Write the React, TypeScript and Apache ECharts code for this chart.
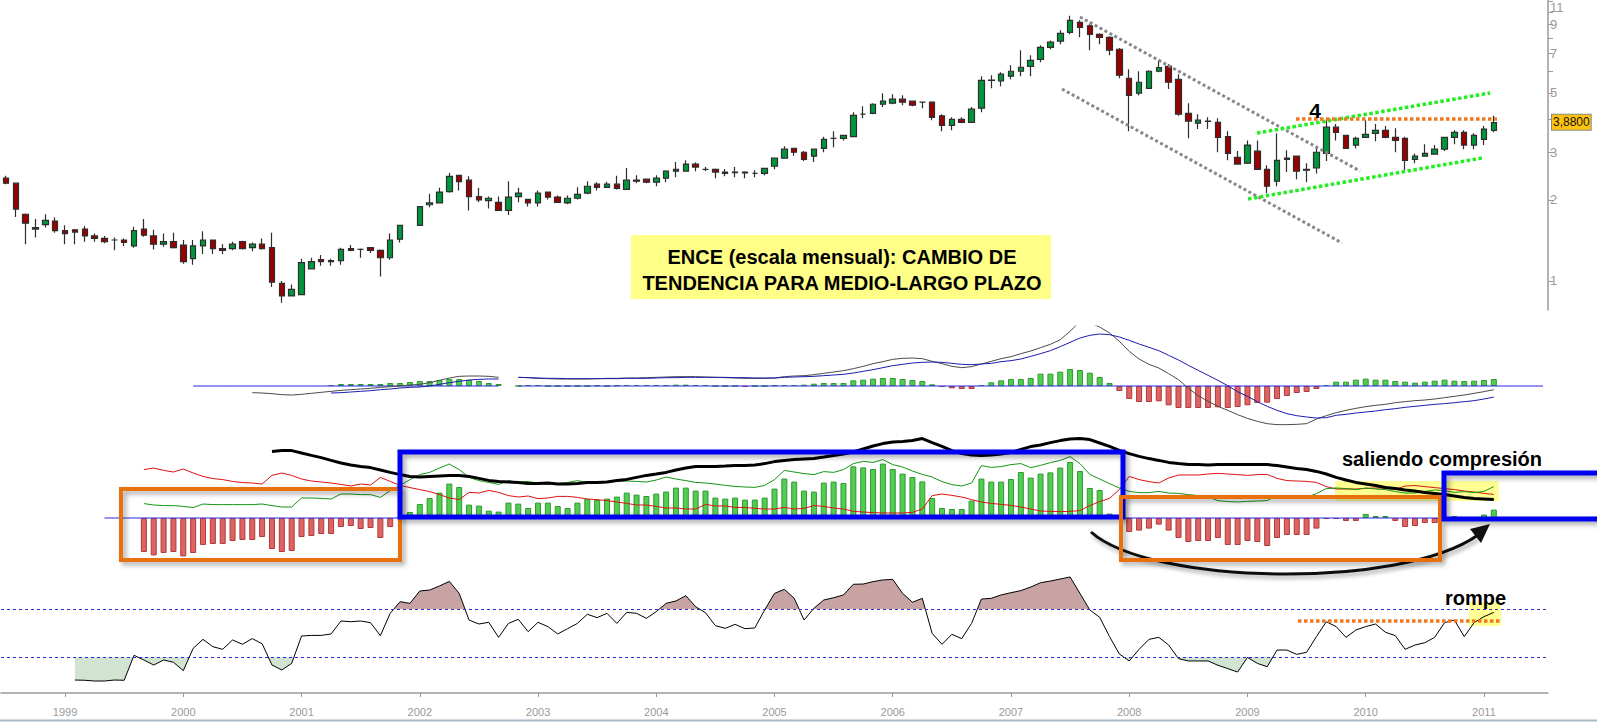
import { useEffect, useRef } from 'react';
import * as echarts from 'echarts';

// ENCE monthly bars, July 1998 .. February 2011 (index 0 = 1998-07).
// Axis slots continue to July 2011 so the price scale sits to the right of the last bar.
const SLOTS = 157;
const months: string[] = [];
for (let i = 0; i < SLOTS; i++) {
  const y = 1998 + Math.floor((6 + i) / 12);
  const m = ((6 + i) % 12) + 1;
  months.push(`${y}-${String(m).padStart(2, '0')}`);
}

const open = [
  2.41, 2.31, 1.77, 1.56, 1.62, 1.67, 1.54, 1.55, 1.56, 1.47,
  1.44, 1.42, 1.42, 1.35, 1.56, 1.47, 1.37, 1.40, 1.36, 1.21,
  1.35, 1.42, 1.32, 1.32, 1.40, 1.33, 1.37, 1.33, 0.98, 0.88,
  0.89, 1.11, 1.20, 1.19, 1.19, 1.32, 1.31, 1.33, 1.30, 1.22,
  1.43, null, 1.61, 1.92, 1.95, 2.15, 2.47, 2.37, 2.06, 1.99,
  1.96, 1.83, 2.06, 2.01, 1.95, 2.14, 2.05, 1.95, 2.03, 2.12,
  2.29, 2.23, 2.29, 2.19, 2.35, 2.39, 2.33, 2.41, 2.56, 2.56,
  2.72, 2.60, 2.60, 2.54, 2.54, 2.54, 2.51, 2.51, 2.67, 2.86,
  3.11, 3.01, 2.91, 3.11, 3.39, 3.39, 3.44, 4.17, 4.20, 4.54,
  4.58, 4.74, 4.66, 4.62, 4.62, 4.11, 3.79, 3.99, 3.89, 4.39,
  5.57, 5.54, 5.77, 6.02, 6.28, 6.67, 7.39, 7.79, 8.40, 9.15,
  8.89, 8.26, 8.05, 7.27, 5.67, 4.99, 5.20, 6.02, 6.28, 5.62,
  4.20, 3.86, 3.93, 3.89, 3.44, 2.88, 2.74, 3.04, 2.60, 2.35,
  2.83, 2.91, 2.60, 2.63, 2.98, 3.73, 3.48, 3.20, 3.42, 3.54,
  3.63, 3.42, 3.39, 2.83, 2.91, 2.96, 3.09, 3.42, 3.57, 3.20,
  3.36, 3.63,
];
const close = [
  2.31, 1.85, 1.64, 1.58, 1.68, 1.54, 1.50, 1.52, 1.47, 1.44,
  1.40, 1.42, 1.39, 1.54, 1.48, 1.37, 1.40, 1.33, 1.18, 1.35,
  1.42, 1.32, 1.30, 1.37, 1.32, 1.37, 1.32, 0.99, 0.88, 0.93,
  1.17, 1.18, 1.18, 1.18, 1.31, 1.30, 1.31, 1.30, 1.22, 1.42,
  1.61, null, 1.89, 1.95, 2.14, 2.45, 2.34, 2.06, 2.00, 2.03,
  1.83, 2.05, 2.12, 1.95, 2.12, 2.05, 1.96, 2.03, 2.10, 2.25,
  2.23, 2.29, 2.21, 2.37, 2.37, 2.33, 2.41, 2.56, 2.60, 2.72,
  2.65, 2.60, 2.54, 2.51, 2.53, 2.52, 2.51, 2.62, 2.86, 3.09,
  3.01, 2.83, 3.09, 3.36, 3.39, 3.48, 4.13, 4.17, 4.54, 4.66,
  4.74, 4.62, 4.50, 4.62, 4.06, 3.79, 3.99, 3.89, 4.35, 5.57,
  5.58, 5.87, 6.02, 6.23, 6.61, 7.39, 7.72, 8.33, 9.31, 8.77,
  8.26, 8.05, 7.21, 5.82, 4.90, 5.48, 6.02, 6.21, 5.48, 4.17,
  3.93, 3.96, 3.92, 3.42, 2.98, 2.72, 3.20, 2.60, 2.25, 2.81,
  2.86, 2.56, 2.58, 3.01, 3.73, 3.57, 3.11, 3.39, 3.51, 3.63,
  3.42, 3.33, 2.81, 2.91, 2.98, 3.09, 3.42, 3.57, 3.20, 3.48,
  3.67, 3.88,
];
const low = [
  2.29, 1.73, 1.37, 1.45, 1.58, 1.51, 1.37, 1.37, 1.40, 1.40,
  1.38, 1.30, 1.35, 1.33, 1.46, 1.31, 1.34, 1.32, 1.16, 1.15,
  1.26, 1.26, 1.26, 1.30, 1.31, 1.29, 1.31, 0.95, 0.83, 0.88,
  0.89, 1.11, 1.14, 1.14, 1.15, 1.29, 1.22, 1.27, 1.04, 1.20,
  1.39, null, 1.61, 1.88, 1.95, 2.13, 2.17, 1.83, 1.96, 1.86,
  1.83, 1.76, 1.96, 1.89, 1.89, 2.01, 1.96, 1.93, 2.01, 2.10,
  2.17, 2.23, 2.19, 2.19, 2.31, 2.31, 2.25, 2.33, 2.43, 2.56,
  2.56, 2.56, 2.41, 2.45, 2.43, 2.41, 2.43, 2.47, 2.60, 2.86,
  2.92, 2.79, 2.77, 3.01, 3.14, 3.33, 3.44, 4.03, 4.17, 4.43,
  4.54, 4.50, 4.46, 4.39, 3.96, 3.60, 3.63, 3.86, 3.89, 4.24,
  5.20, 5.29, 5.62, 5.77, 5.77, 6.50, 7.27, 7.59, 8.26, 8.05,
  7.21, 7.59, 6.90, 5.67, 3.60, 4.90, 5.17, 5.97, 5.17, 4.11,
  3.39, 3.67, 3.67, 3.01, 2.81, 2.72, 2.72, 2.60, 2.12, 2.25,
  2.54, 2.39, 2.33, 2.51, 2.79, 3.33, 3.11, 3.11, 3.42, 3.31,
  3.39, 3.01, 2.58, 2.74, 2.91, 2.96, 3.04, 3.22, 3.09, 3.09,
  3.20, 3.57,
];
const high = [
  2.46, 2.32, 1.78, 1.70, 1.77, 1.72, 1.61, 1.56, 1.60, 1.50,
  1.47, 1.45, 1.44, 1.59, 1.70, 1.55, 1.50, 1.51, 1.42, 1.42,
  1.53, 1.42, 1.37, 1.40, 1.41, 1.39, 1.44, 1.51, 1.00, 0.97,
  1.21, 1.22, 1.25, 1.21, 1.33, 1.36, 1.32, 1.33, 1.31, 1.50,
  1.61, null, 1.90, 2.11, 2.22, 2.52, 2.47, 2.45, 2.22, 2.06,
  2.06, 2.35, 2.22, 2.01, 2.17, 2.14, 2.08, 2.08, 2.23, 2.35,
  2.33, 2.34, 2.46, 2.63, 2.47, 2.39, 2.47, 2.58, 2.77, 2.81,
  2.76, 2.65, 2.62, 2.61, 2.65, 2.56, 2.58, 2.63, 2.87, 3.17,
  3.12, 3.04, 3.11, 3.44, 3.60, 3.48, 4.24, 4.46, 4.58, 4.99,
  4.94, 4.90, 4.66, 4.63, 4.66, 4.17, 4.06, 4.06, 4.43, 5.77,
  5.82, 5.97, 6.34, 7.21, 6.90, 7.52, 7.84, 8.55, 9.69, 9.31,
  9.00, 8.33, 8.12, 7.34, 6.13, 6.02, 6.07, 6.61, 6.39, 5.87,
  4.58, 4.17, 4.06, 4.03, 3.60, 3.04, 3.33, 3.33, 2.69, 3.54,
  3.06, 2.91, 2.74, 3.14, 4.03, 3.83, 3.48, 3.44, 3.96, 3.83,
  3.77, 3.70, 3.44, 2.98, 3.22, 3.20, 3.44, 3.63, 3.63, 3.54,
  3.77, 4.11,
];

// Price scale (logarithmic) ticks
const PRICE_AXIS_MIN = 0.78;
const PRICE_AXIS_MAX = 11.08;
const priceTicks = [1, 2, 3, 4, 5, 6, 7, 8, 9, 10, 11];
const priceLabels = [1, 2, 3, 5, 7, 9, 11];

// MACD panel
const MACD_START = 25;
const macdLine = [
  -0.10, -0.105, -0.115, -0.13, -0.135, -0.125, -0.11, -0.095, -0.08, -0.065,
  -0.055, -0.045, -0.035, -0.02, -0.01, 0, 0.015, 0.025, 0.05, 0.085,
  0.12, 0.145, 0.15, 0.15, 0.145, 0.13, null,
  0.13, 0.125, 0.115, 0.11, 0.105, 0.105, 0.105, 0.105, 0.11, 0.115,
  0.115, 0.12, 0.12, 0.125, 0.13, 0.135, 0.14, 0.14, 0.14, 0.135,
  0.13, 0.125, 0.12, 0.115, 0.115, 0.115, 0.12, 0.14, 0.15, 0.155,
  0.17, 0.19, 0.21, 0.23, 0.26,
  0.295, 0.335, 0.365, 0.40, 0.415, 0.42, 0.41, 0.37, 0.335, 0.295,
  0.275, 0.29, 0.33, 0.37, 0.41, 0.44, 0.485, 0.525, 0.575, 0.625,
  0.695, 0.82, 0.97, 0.95, 0.885, 0.795, 0.67, 0.52, 0.405, 0.325,
  0.27, 0.185, 0.095, -0.035, -0.145, -0.23, -0.305, -0.365, -0.43, -0.485,
  -0.53, -0.565, -0.58, -0.58, -0.575, -0.565, -0.495, -0.445, -0.40, -0.365,
  -0.335, -0.31, -0.29, -0.275, -0.25, -0.235, -0.22, -0.21, -0.195, -0.175,
  -0.155, -0.135, -0.11, -0.085, -0.055,
];
const SIGNAL_START = 33;
const signalLine = [
  -0.105, -0.10, -0.09, -0.08, -0.07, -0.055, -0.045, -0.03, -0.02, -0.015,
  0, 0.025, 0.05, 0.07, 0.09, 0.10, 0.105, 0.105, null,
  0.13, 0.125, 0.12, 0.115, 0.115, 0.11, 0.11, 0.11, 0.11, 0.11,
  0.11, 0.115, 0.115, 0.115, 0.12, 0.125, 0.125, 0.13, 0.13, 0.13,
  0.13, 0.13, 0.125, 0.125, 0.12, 0.12, 0.12, 0.13, 0.135, 0.14,
  0.145, 0.155, 0.165, 0.175, 0.195,
  0.22, 0.245, 0.275, 0.305, 0.325, 0.345, 0.355, 0.36, 0.355, 0.34,
  0.325, 0.32, 0.33, 0.34, 0.365, 0.38, 0.405, 0.445, 0.485, 0.53,
  0.59, 0.655, 0.72, 0.76, 0.78, 0.77, 0.735, 0.685, 0.63, 0.58,
  0.53, 0.46, 0.39, 0.31, 0.235, 0.16, 0.085, 0.005, -0.085, -0.155,
  -0.235, -0.305, -0.365, -0.415, -0.445, -0.465, -0.48, -0.475, -0.44, -0.425,
  -0.405, -0.39, -0.375, -0.355, -0.34, -0.32, -0.305, -0.29, -0.275, -0.265,
  -0.25, -0.235, -0.22, -0.195, -0.165,
];
const macdHist = [
  0.015, 0.03, 0.03, 0.03, 0.03, 0.03, 0.045, 0.045, 0.06, 0.075,
  0.075, 0.09, 0.105, 0.105, 0.09, 0.075, 0.045, 0.03, null,
  0, 0.015, 0.015, 0, 0, 0, 0, 0, 0.01, 0,
  0.01, 0.015, 0.015, 0.015, 0.015, 0.015, 0.02, 0.02, 0.015, 0.015,
  0, 0, 0, -0.01, 0, 0, 0.01, 0.015, 0.015, 0.02,
  0.035, 0.045, 0.045, 0.045, 0.085,
  0.095, 0.11, 0.12, 0.12, 0.105, 0.09, 0.075, 0.025, -0.015, -0.035,
  -0.045, -0.045, 0.015, 0.055, 0.085, 0.105, 0.105, 0.12, 0.185, 0.185,
  0.215, 0.255, 0.24, 0.2, 0.135, 0.045, -0.075, -0.195, -0.24, -0.24,
  -0.23, -0.29, -0.33, -0.33, -0.33, -0.33, -0.32, -0.33, -0.315, -0.29,
  -0.255, -0.25, -0.195, -0.15, -0.105, -0.09, -0.045, 0.015, 0.065, 0.065,
  0.095, 0.11, 0.095, 0.095, 0.075, 0.065, 0.05, 0.065, 0.08, 0.095,
  0.08, 0.075, 0.08, 0.09, 0.105,
];

// Directional movement panel (+DI green, -DI red, ADX black, +DI minus -DI bars)
const DI_START = 14;
const minusDI = [
  24.2, 25, 23.8, 23, 24.5, 22.5,
  20.8, 19.7, 19.2, 18.3, 17.7, 17.5, 17, 21.3, 22.5, 21.3,
  19.5, 18.5, 18, 17.5, 16.8, 16, 17, 16.5, 20.3, 18.3,
  16.3, 15.2, 14.2, 13.2, 11.7, 10, 9.2, 12.8, 12.5, 13.8,
  12.8, 11.2, 10.5, 11, 9.7, 10, 10.8, 10.8, 10.3, 9.5,
  9.2, 8.7, 8, 7.3, 6.5, 6.5, 5.8, 5, 5, 4.5,
  4.5, 6.8, 6, 6, 5.3, 5.3, 4.8, 4.5, 4.5, 5.3,
  4.5, 4.8, 6.2, 5.8, 5, 4.5, 3.3, 3, 2.7, 2.5,
  2.5, 2.5, 2.8, 4.5, 11.2, 12, 11.3, 10.5, 9.2, 8,
  7.3, 6.8, 6.3, 5.5, 4.5, 3.5, 3.3, 3.2, 3.3, 3.7,
  6.2, 8.2, 9.8, 14.2, 20.8, 19.2, 18.2, 17.5, 20, 21.5,
  21.5, 21.5, 22, 22.3, 22, 21.7, 21.3, 21.7, 21.8, 19.8,
  18.7, 18.5, 18.3, 17.8, 15.7, 14.5, 14.5, 14.5, 14.8, 15,
  15, 14.3, 16, 16.2, 15.7, 15.2, 14.7, 14.2, 13.5, 13,
  12.3, 11.8,
];
const plusDI = [
  7.2, 6.5, 6.2, 6.2, 5.8, 5.2,
  7, 6.7, 6.7, 6.7, 6.7, 6.7, 7, 6.2, 5.5, 5.5,
  10, 10, 9.8, 9.5, 12, 12, 11.7, 11.7, 10.3, 13.7,
  16.3, 19.2, 21.7, 22.8, 25, 27, 24.2, 20.3, 18.7, 17.8,
  16.8, 18.7, 17.8, 18.3, 17.3, 16.8, 17.2, 17.8, 18.7, 17.8,
  17.8, 18.3, 18.3, 18.5, 18.3, 18, 19, 20.5, 19.5, 18.7,
  17.8, 17.5, 17, 16.3, 15.8, 15.5, 15.3, 16.3, 19.2, 23.8,
  23, 22.2, 21.7, 23.2, 22.8, 24.2, 27.2, 28.3, 27.8, 29.2,
  26.7, 25.5, 23.5, 21.8, 20.5, 18.2, 16.7, 16, 17.5, 26.2,
  25.3, 25.7, 26.7, 27.2, 25.2, 26.3, 27.7, 28.8, 30.7, 27.2,
  21.8, 19.5, 17.2, 15, 13.3, 12.7, 12.7, 13.3, 12.5, 12.3,
  11.7, 11.2, 10.5, 8.7, 8.2, 8, 8.3, 8.5, 8.7, 11.3,
  10.5, 10.3, 10.3, 12.2, 14.7, 15, 14.7, 14.2, 15, 14.5,
  14.2, 13.2, 12.5, 12.5, 13.3, 14, 13.7, 12.8, 13.2, 12.7,
  13.3, 15.7,
];
const diSpread = [
  -17, -18.7, -17.5, -17, -19.2, -17.5,
  -13.5, -13, -13, -11.5, -11, -11, -9.5, -15.5, -17, -16.5,
  -9.5, -9, -8, -8, -4.5, -4, -5.5, -5, -10, -4.5,
  0.5, 3, 7, 10, 12.7, 17.2, 15.5, 6.7, 6.2, 3.7,
  3.2, 7.7, 7.2, 5, 7.7, 7.7, 6, 5, 7.7, 9.5,
  9, 9.7, 10.7, 12.7, 11.7, 11, 12.2, 13.2, 15.2, 15.2,
  13.7, 13.7, 10.2, 9.7, 10.2, 9.2, 9.2, 10.2, 14.7, 19.7,
  18.2, 13.7, 13.2, 17.7, 18.2, 17.5, 25.8, 25.3, 24.5, 27.2,
  24.5, 22.2, 20.5, 18.3, 10, 5, 4.5, 4.5, 8.7, 19.7,
  18.2, 18.2, 19.5, 23, 20.2, 22.2, 22.8, 25.2, 28, 23.5,
  15, 14, 2.2, 0.8, -7, -6.3, -5.3, -3.3, -6.3, -10,
  -12, -11.5, -11.5, -10, -13.5, -13.5, -11.5, -12, -14, -10,
  -8.5, -8.5, -8.5, -5.3, -0.5, -0.5, -1.5, -1.5, 2, 1,
  1, -1.5, -4.5, -4, -2.5, -2.5, -1, 1, 0.3, 0.5,
  1.7, 4.2,
];
const ADX_START = 27;
const adx = [
  33.3, 33.8, 33.7,
  32.5, 31.3, 30.2, 28.8, 27.5, 26.5, 25.8, 25.2, 24, 22.8,
  21.7, 20.8, 20.5, 20.8, 21, 21.2, 21.3, 20.8, 19.8, 18.8,
  18.2, 18, 17.7, 17.3, 17.3, 17.5, 17, 17, 17.3, 17.8,
  17.8, 18, 18.7, 19.3, 20.3, 21.3, 22, 22.8, 24, 25,
  25.8, 25.8, 25.8, 26, 26.3, 26.3, 26.5, 27.2, 28.2, 28.8,
  29.2, 29.5, 29.8, 30.5, 31.3, 32, 33, 34.5, 36, 37.2,
  38, 38.3, 38.8, 39.7, 37.7, 35.8, 33.7, 32.2, 31.5, 31.3,
  31.5, 32, 32.7, 34.3, 35.7, 36.5, 37.7, 38.7, 39.5, 39.8,
  39.2, 37.5, 35.8, 33.8, 32.2, 30.8, 29.7, 28.8, 27.8, 27.2,
  26.8, 26.7, 26.5, 26.7, 26.7, 26.8, 26.8, 26.8, 26.7, 26.2,
  25.5, 24.8, 24.2, 23.3, 22, 20.3, 19, 17.8, 17, 16.2,
  15.3, 14.7, 14, 13.5, 12.8, 12.3, 11.8, 11, 10.2, 9.7,
  9.5, 9.3,
];

// Oscillator panel (0..100, bands at 30 / 70)
const RSI_START = 7;
const rsi = [
  10.8, 10.6, 10, 10, 10.8, 10.6,
  31.4, 27.5, 23.3, 27.5, 25.6, 18.6, 37.2,
  44.7, 38.6, 36.4, 44.2, 40.6, 45.3, 41.1, 23.3, 19.2, 24.7,
  47.5, 48, 48, 49.2, 60, 59.4, 60, 58.6, 47.8, 66.4,
  76.1, 74.7, 85, 85.8, 89.2, 93, 83, 60.8, 57.5, 58.9,
  46.4, 58, 61.4, 51.1, 58.9, 55.3, 49.2, 53.6, 58, 65.6,
  62.8, 66.4, 58, 67.2, 66.4, 62.2, 67.8, 74.7, 76.7, 81.1,
  71.9, 66.9, 56.1, 53.9, 57.2, 53.6, 54.2, 69.2, 83, 86.4,
  78.9, 60.8, 70.6, 77.5, 79.4, 81.7, 90.6, 90.8, 92.8, 94.2,
  94.7, 83, 75.6, 78.9, 49.7, 40.6, 48.9, 45.3, 58, 78.3,
  78.9, 81.7, 83.6, 85.3, 88.3, 91.9, 93.3, 95, 96.7, 83,
  69.2, 63.1, 47, 32.5, 26.7, 36.4, 44.7, 46.4, 40, 28.6,
  26.7, 26.7, 26.7, 23.1, 20.3, 17.5, 29.7, 24.7, 21.9, 35.8,
  35.8, 32.2, 33.9, 47, 59.4, 55.3, 46.4, 52.5, 55.3, 57.5,
  50.6, 47.8, 36.4, 40, 41.9, 46.4, 58.6, 60.8, 47, 58.6,
  63.6, 67.2,
];
const RSI_UPPER = 70;
const RSI_LOWER = 30;

// Zero baselines of the two lower indicator panels
const MACD_ZERO_FROM = 19;
const MACD_ZERO_GAP = 51;
const DI_ZERO_FROM = 10;

const lg = (v: number) => Math.log10(v);
const FONT = '"Liberation Sans", Arial, Helvetica, sans-serif';

function place(start: number, values: (number | null)[]): (number | null)[] {
  const out: (number | null)[] = new Array(SLOTS).fill(null);
  values.forEach((v, i) => {
    out[start + i] = v;
  });
  return out;
}

const GREEN_FILL = '#52CC52';
const GREEN_EDGE = '#2E9A2E';
const RED_FILL = '#DE6464';
const RED_EDGE = '#B03A3A';

function histBars(start: number, values: (number | null)[]) {
  return place(start, values).map((v) =>
    v == null
      ? null
      : {
          value: v,
          itemStyle: {
            color: v >= 0 ? GREEN_FILL : RED_FILL,
            borderColor: v >= 0 ? GREEN_EDGE : RED_EDGE,
            borderWidth: 1,
          },
        }
  );
}

function baseline(from: number, to: number, gaps: number[] = []) {
  return months.map((_, i) => (i >= from && i <= to && !gaps.includes(i) ? 0 : null));
}

function buildOption() {
  const lastClose = close[close.length - 1] as number;
  const candles = open.map((o, i) =>
    o == null ? '-' : [lg(o), lg(close[i] as number), lg(low[i] as number), lg(high[i] as number)]
  );

  const gridBox = { left: 1, width: 1547 };
  const yearOnly = (index: number) => months[index].endsWith('-01');

  const hiddenX = (gridIndex: number) => ({
    type: 'category',
    gridIndex,
    data: months,
    boundaryGap: true,
    show: false,
  });

  const dotted = (x1: number, y1: number, x2: number, y2: number, stroke: string, lineWidth: number, dash: number[]) => ({
    type: 'line',
    z: 50,
    silent: true,
    shape: { x1, y1, x2, y2 },
    style: { stroke, lineWidth, lineDash: dash },
  });
  const label = (text: string, x: number, y: number, size: number, align: string) => ({
    type: 'text',
    z: 60,
    silent: true,
    x,
    y,
    style: {
      text,
      font: `bold ${size}px ${FONT}`,
      fill: '#000',
      textAlign: align,
      align,
      textVerticalAlign: 'middle',
      verticalAlign: 'middle',
    },
  });
  const frame = (x: number, y: number, width: number, height: number, stroke: string, lineWidth: number) => ({
    type: 'rect',
    z: 55,
    silent: true,
    shape: { x, y, width, height },
    style: {
      fill: 'none',
      stroke,
      lineWidth,
      shadowBlur: 5,
      shadowColor: 'rgba(0,0,0,0.35)',
      shadowOffsetX: 3,
      shadowOffsetY: 3,
    },
  });
  const highlight = (x: number, y: number, width: number, height: number) => ({
    type: 'rect',
    z: 0,
    silent: true,
    shape: { x, y, width, height },
    style: { fill: 'rgba(255,255,110,0.75)' },
  });

  return {
    animation: false,
    backgroundColor: '#ffffff',
    textStyle: { fontFamily: FONT },
    grid: [
      { ...gridBox, top: 0, height: 310 },
      { ...gridBox, top: 326, height: 110 },
      { ...gridBox, top: 430, height: 130 },
      { ...gridBox, top: 573, height: 120 },
      { ...gridBox, top: 573, height: 36 },
      { ...gridBox, top: 657, height: 36 },
    ],
    xAxis: [
      hiddenX(0),
      hiddenX(1),
      hiddenX(2),
      {
        type: 'category',
        gridIndex: 3,
        data: months,
        boundaryGap: true,
        position: 'bottom',
        offset: 8,
        axisLine: { show: true, lineStyle: { color: '#9a9a9a', width: 1.5 } },
        axisTick: { show: true, interval: yearOnly, alignWithLabel: true, length: 4, lineStyle: { color: '#9a9a9a' } },
        axisLabel: {
          interval: yearOnly,
          formatter: (v: string) => v.slice(0, 4),
          color: '#9a9a9a',
          fontSize: 11,
          margin: 5,
          fontFamily: FONT,
        },
        splitLine: { show: false },
      },
      hiddenX(4),
      hiddenX(5),
    ],
    yAxis: [
      {
        type: 'value',
        gridIndex: 0,
        position: 'right',
        min: lg(PRICE_AXIS_MIN),
        max: lg(PRICE_AXIS_MAX),
        splitLine: { show: false },
        axisLine: { show: true, lineStyle: { color: '#9a9a9a', width: 1.5 } },
        axisTick: {
          show: true,
          customValues: priceTicks.map(lg),
          length: 5,
          lineStyle: { color: '#9a9a9a' },
        },
        axisLabel: {
          customValues: priceLabels.map(lg),
          formatter: (v: number) => String(Math.round(Math.pow(10, v))),
          color: '#9a9a9a',
          fontSize: 13,
          margin: 2,
          fontFamily: FONT,
          verticalAlignMaxLabel: 'top',
        },
      },
      { type: 'value', gridIndex: 1, min: -0.75, max: 0.9, show: false, splitLine: { show: false } },
      { type: 'value', gridIndex: 2, min: -21, max: 44, show: false, splitLine: { show: false } },
      { type: 'value', gridIndex: 3, min: 0, max: 100, show: false, splitLine: { show: false } },
      { type: 'value', gridIndex: 4, min: RSI_UPPER, max: 100, show: false, splitLine: { show: false } },
      { type: 'value', gridIndex: 5, min: 0, max: RSI_LOWER, show: false, splitLine: { show: false } },
    ],
    series: [
      {
        name: 'ENCE',
        type: 'candlestick',
        xAxisIndex: 0,
        yAxisIndex: 0,
        data: candles,
        barWidth: 6,
        itemStyle: {
          color: '#00963C',
          color0: '#990000',
          borderColor: '#2e2e2e',
          borderColor0: '#2e2e2e',
          borderWidth: 1.2,
        },
        markLine: {
          silent: true,
          symbol: ['none', 'none'],
          lineStyle: { color: 'rgba(0,0,0,0)', width: 0.01 },
          label: {
            show: true,
            position: 'end',
            distance: 4,
            formatter: () => lastClose.toFixed(4).replace('.', ','),
            backgroundColor: '#FFC20E',
            borderColor: '#8a8a8a',
            borderWidth: 1,
            padding: [2, 1, 1, 1],
            color: '#111',
            fontSize: 12,
            fontFamily: FONT,
          },
          data: [{ yAxis: lg(lastClose) }],
        },
      },
      {
        name: 'MACD hist',
        type: 'bar',
        xAxisIndex: 1,
        yAxisIndex: 1,
        data: histBars(SIGNAL_START, macdHist),
        barWidth: 6,
      },
      {
        name: 'MACD zero',
        type: 'line',
        xAxisIndex: 1,
        yAxisIndex: 1,
        data: baseline(MACD_ZERO_FROM, SLOTS - 1, [MACD_ZERO_GAP]),
        symbol: 'none',
        lineStyle: { color: '#2828E0', width: 1 },
      },
      {
        name: 'MACD',
        type: 'line',
        xAxisIndex: 1,
        yAxisIndex: 1,
        data: place(MACD_START, macdLine),
        symbol: 'none',
        lineStyle: { color: '#4a4a4a', width: 1 },
      },
      {
        name: 'Signal',
        type: 'line',
        xAxisIndex: 1,
        yAxisIndex: 1,
        data: place(SIGNAL_START, signalLine),
        symbol: 'none',
        lineStyle: { color: '#1C1CB0', width: 1 },
      },
      {
        name: 'DI spread',
        type: 'bar',
        xAxisIndex: 2,
        yAxisIndex: 2,
        data: histBars(DI_START, diSpread),
        barWidth: 6,
      },
      {
        name: 'DI zero',
        type: 'line',
        xAxisIndex: 2,
        yAxisIndex: 2,
        data: baseline(DI_ZERO_FROM, SLOTS - 1),
        symbol: 'none',
        lineStyle: { color: '#2828E0', width: 1 },
      },
      {
        name: '-DI',
        type: 'line',
        xAxisIndex: 2,
        yAxisIndex: 2,
        data: place(DI_START, minusDI),
        symbol: 'none',
        lineStyle: { color: '#DD1111', width: 1 },
      },
      {
        name: '+DI',
        type: 'line',
        xAxisIndex: 2,
        yAxisIndex: 2,
        data: place(DI_START, plusDI),
        symbol: 'none',
        lineStyle: { color: '#149614', width: 1 },
      },
      {
        name: 'ADX',
        type: 'line',
        xAxisIndex: 2,
        yAxisIndex: 2,
        data: place(ADX_START, adx),
        symbol: 'none',
        lineStyle: { color: '#000000', width: 3 },
      },
      {
        name: 'Overbought',
        type: 'line',
        xAxisIndex: 4,
        yAxisIndex: 4,
        data: place(RSI_START, rsi),
        symbol: 'none',
        clip: true,
        lineStyle: { width: 0.1, opacity: 0 },
        areaStyle: { color: '#C8A3A3', opacity: 1, origin: 'start' },
      },
      {
        name: 'Oversold',
        type: 'line',
        xAxisIndex: 5,
        yAxisIndex: 5,
        data: place(RSI_START, rsi),
        symbol: 'none',
        clip: true,
        lineStyle: { width: 0.1, opacity: 0 },
        areaStyle: { color: '#D1E3D1', opacity: 1, origin: 'end' },
      },
      {
        name: 'RSI',
        type: 'line',
        xAxisIndex: 3,
        yAxisIndex: 3,
        data: place(RSI_START, rsi),
        symbol: 'none',
        lineStyle: { color: '#000000', width: 1 },
        markLine: {
          silent: true,
          symbol: ['none', 'none'],
          label: { show: false },
          lineStyle: { color: '#2B2BD6', width: 1, type: [3, 3] },
          data: [{ yAxis: RSI_UPPER }, { yAxis: RSI_LOWER }],
        },
      },
    ],
    graphic: [
      // bearish channel
      dotted(1080, 17, 1360, 171, '#888888', 3, [3, 2.6]),
      dotted(1062, 89, 1342, 243, '#888888', 3, [3, 2.6]),
      // bullish channel
      dotted(1257, 133, 1490, 93, '#22EE22', 3.5, [3.5, 2.5]),
      dotted(1248, 199, 1482, 158, '#22EE22', 3.5, [3.5, 2.5]),
      // resistance at 4
      dotted(1296, 119, 1497, 119, '#F07820', 3.5, [3.5, 2.5]),
      label('4', 1315, 110, 21, 'center'),
      // title box
      {
        type: 'rect',
        z: 40,
        silent: true,
        shape: { x: 631, y: 235, width: 420, height: 64 },
        style: { fill: '#FFFF88' },
      },
      label('ENCE (escala mensual): CAMBIO DE', 842, 257, 20, 'center'),
      label('TENDENCIA PARA MEDIO-LARGO PLAZO', 842, 283, 20, 'center'),
      // indicator panel annotations
      highlight(1335, 481, 164, 20),
      frame(121, 489, 279, 71, '#E8700A', 4),
      frame(400, 452, 723, 65, '#0000F0', 5),
      frame(1121, 497, 319, 63, '#E8700A', 4),
      frame(1444, 473, 170, 46, '#0000F0', 5),
      {
        type: 'bezierCurve',
        z: 52,
        silent: true,
        shape: { x1: 1091, y1: 532, cpx1: 1150, cpy1: 585, cpx2: 1400, cpy2: 590, x2: 1478, y2: 535 },
        style: {
          stroke: '#111111',
          lineWidth: 3,
          fill: 'none',
          shadowBlur: 4,
          shadowColor: 'rgba(0,0,0,0.35)',
          shadowOffsetX: 2,
          shadowOffsetY: 3,
        },
      },
      {
        type: 'polygon',
        z: 52,
        silent: true,
        shape: { points: [[1490, 524], [1470, 529], [1481, 543]] },
        style: { fill: '#111111' },
      },
      label('saliendo compresión', 1342, 459, 20, 'left'),
      // oscillator annotations
      highlight(1469, 602, 32, 24),
      dotted(1298, 621, 1501, 621, '#F07820', 3.5, [3.5, 2.5]),
      label('rompe', 1445, 598, 20, 'left'),
      // bottom frame line
      {
        type: 'line',
        z: 10,
        silent: true,
        shape: { x1: 0, y1: 720.5, x2: 1597, y2: 720.5 },
        style: { stroke: '#A9BAC4', lineWidth: 2 },
      },
    ],
  };
}

export default function App() {
  const ref = useRef<HTMLDivElement>(null);
  useEffect(() => {
    if (!ref.current) return;
    const chart = echarts.init(ref.current, undefined, { renderer: 'svg' });
    chart.setOption(buildOption() as any);
    return () => chart.dispose();
  }, []);
  return (
    <div
      ref={ref}
      style={{ position: 'absolute', left: 0, top: 0, width: 1597, height: 722, background: '#ffffff' }}
    />
  );
}
